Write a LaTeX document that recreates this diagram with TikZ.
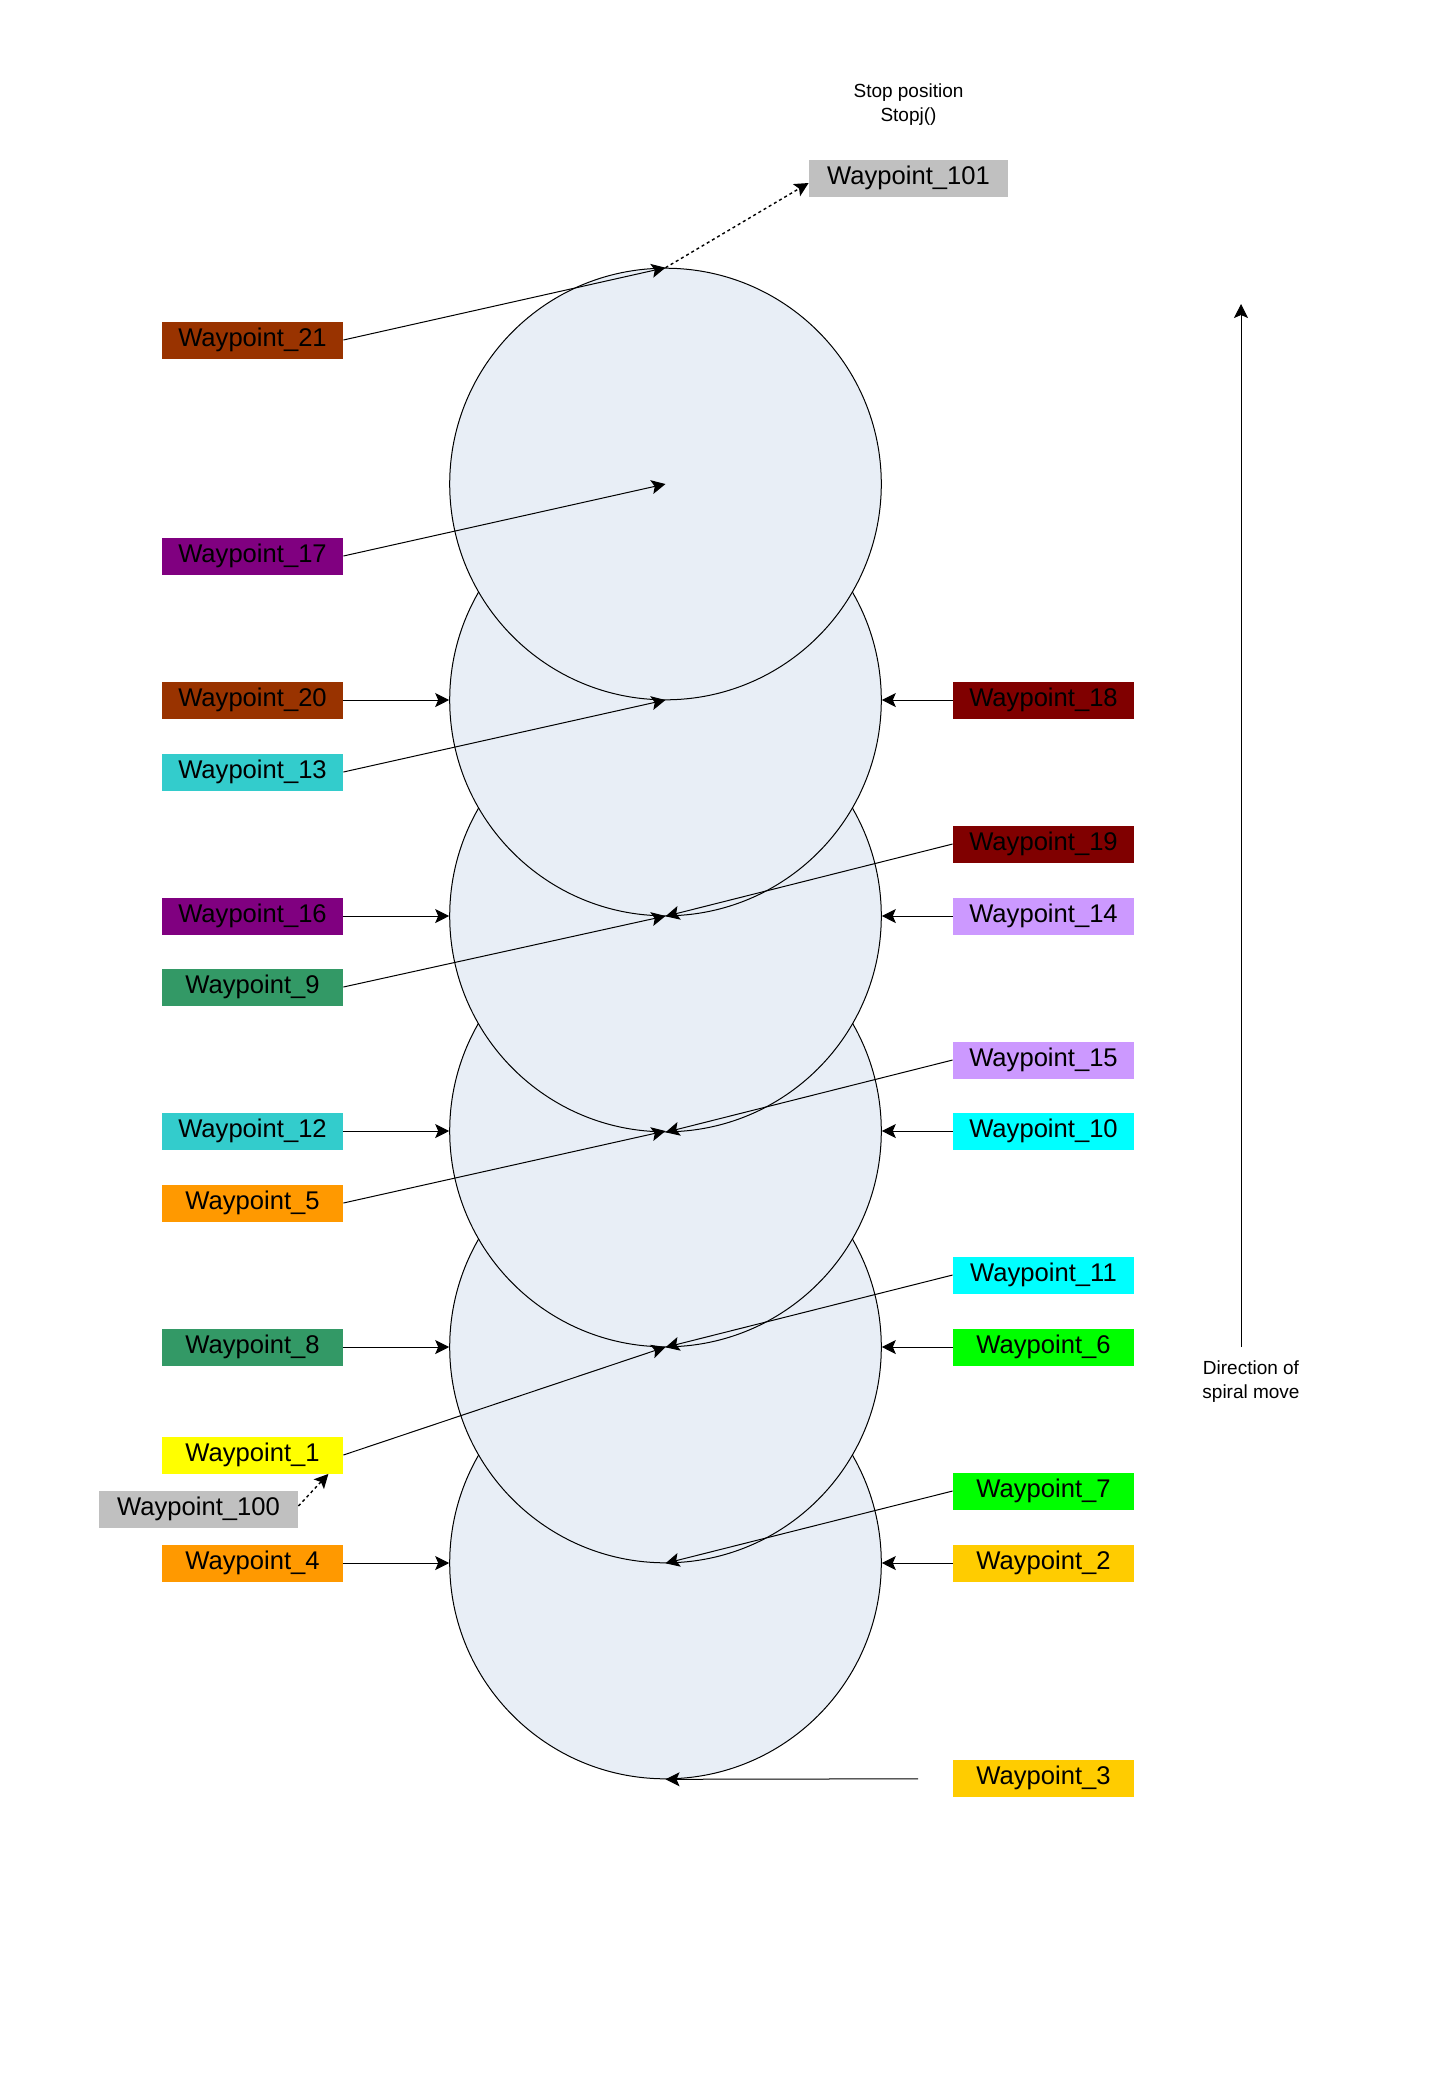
\documentclass[tikz,border=0pt]{standalone}
\usepackage{fontspec}
\setmainfont{Liberation Sans}
\usetikzlibrary{arrows.meta,calc}
\definecolor{cfill}{RGB}{232,238,246}
\definecolor{cgray}{HTML}{C0C0C0}
\definecolor{cbrown}{HTML}{993300}
\definecolor{cpurple}{HTML}{800080}
\definecolor{cmaroon}{HTML}{800000}
\definecolor{cteal}{HTML}{33CCCC}
\definecolor{clav}{HTML}{CC99FF}
\definecolor{csea}{HTML}{339966}
\definecolor{ccyan}{HTML}{00FFFF}
\definecolor{corange}{HTML}{FF9900}
\definecolor{cgreen}{HTML}{00FF00}
\definecolor{cyellow}{HTML}{FFFF00}
\definecolor{cgold}{HTML}{FFCC00}
\begin{document}
\begin{tikzpicture}[x=0.5pt,y=-0.5pt,
  wp/.style={rectangle,fill=#1,minimum width=90.5pt,minimum height=18.5pt,inner sep=0pt,
    font=\fontsize{12.8}{15}\selectfont},
  wpw/.style={wp=#1,minimum width=99.5pt},
  ring/.style={circle,draw=black,line width=0.5pt,fill=cfill,minimum size=215.8pt,inner sep=0pt},
  conn/.style={line width=0.5pt,-{Stealth[length=7pt,width=7pt,inset=1.5pt]}},
  dconn/.style={conn,line width=0.7pt,dash pattern=on 1.5pt off 1.5pt},
  note/.style={align=center,font=\fontsize{9.5}{12}\selectfont,inner sep=0pt}]
\useasboundingbox (0,0) rectangle (1450,2100);
% circles: bottom first, top last
\node[ring] (c6) at (665.5,1563) {};
\node[ring] (c5) at (665.5,1347) {};
\node[ring] (c4) at (665.5,1131) {};
\node[ring] (c3) at (665.5,916) {};
\node[ring] (c2) at (665.5,700) {};
\node[ring] (c1) at (665.5,484) {};
% boxes left
\node[wp=cbrown] (w21) at (252.5,340) {Waypoint\_21};
\node[wp=cpurple] (w17) at (252.5,556) {Waypoint\_17};
\node[wp=cbrown] (w20) at (252.5,700) {Waypoint\_20};
\node[wp=cteal] (w13) at (252.5,772) {Waypoint\_13};
\node[wp=cpurple] (w16) at (252.5,916) {Waypoint\_16};
\node[wp=csea] (w9) at (252.5,987) {Waypoint\_9};
\node[wp=cteal] (w12) at (252.5,1131) {Waypoint\_12};
\node[wp=corange] (w5) at (252.5,1203) {Waypoint\_5};
\node[wp=csea] (w8) at (252.5,1347) {Waypoint\_8};
\node[wp=cyellow] (w1) at (252.5,1455) {Waypoint\_1};
\node[wpw=cgray] (w100) at (198.5,1509) {Waypoint\_100};
\node[wp=corange] (w4) at (252.5,1563) {Waypoint\_4};
% boxes right
\node[wpw=cgray] (w101) at (908.5,178) {Waypoint\_101};
\node[wp=cmaroon] (w18) at (1043.5,700) {Waypoint\_18};
\node[wp=cmaroon] (w19) at (1043.5,844) {Waypoint\_19};
\node[wp=clav] (w14) at (1043.5,916) {Waypoint\_14};
\node[wp=clav] (w15) at (1043.5,1060) {Waypoint\_15};
\node[wp=ccyan] (w10) at (1043.5,1131) {Waypoint\_10};
\node[wp=ccyan] (w11) at (1043.5,1275) {Waypoint\_11};
\node[wp=cgreen] (w6) at (1043.5,1347) {Waypoint\_6};
\node[wp=cgreen] (w7) at (1043.5,1491) {Waypoint\_7};
\node[wp=cgold] (w2) at (1043.5,1563) {Waypoint\_2};
\node[wp=cgold] (w3) at (1043.5,1778) {Waypoint\_3};
% notes
\node[note] (stop) at (908.5,105) {Stop position\\Stopj()};
\node[note] (dir) at (1251,1382) {Direction of\\spiral move};
\coordinate (dirbot) at (1241,1347);
\coordinate (dirtop) at (1241,304);
\coordinate (w3end) at (918,1778.8);
% connectors
\draw[conn] (w21.east) -- (c1.north);
\draw[dconn] (c1.north) -- ($(w101.west)+(0,5)$);
\draw[conn] (w17.east) -- (c1.center);
\draw[conn] (w20.east) -- (c2.west);
\draw[conn] (w18.west) -- (c2.east);
\draw[conn] (w13.east) -- (c2.center);
\draw[conn] (w19.west) -- (c2.south);
\draw[conn] (w16.east) -- (c3.west);
\draw[conn] (w14.west) -- (c3.east);
\draw[conn] (w9.east) -- (c3.center);
\draw[conn] (w15.west) -- (c3.south);
\draw[conn] (w12.east) -- (c4.west);
\draw[conn] (w10.west) -- (c4.east);
\draw[conn] (w5.east) -- (c4.center);
\draw[conn] (w11.west) -- (c4.south);
\draw[conn] (w8.east) -- (c5.west);
\draw[conn] (w6.west) -- (c5.east);
\draw[conn] (w1.east) -- (c5.center);
\draw[conn] (w7.west) -- (c5.south);
\draw[dconn] ($(w100.east)+(0,-3)$) -- ($(w1.south east)+(-15,0)$);
\draw[conn] (w4.east) -- (c6.west);
\draw[conn] (w2.west) -- (c6.east);
\draw[conn] (w3end) -- (c6.south);
\draw[conn] (dirbot) -- (dirtop);
\end{tikzpicture}
\end{document}
